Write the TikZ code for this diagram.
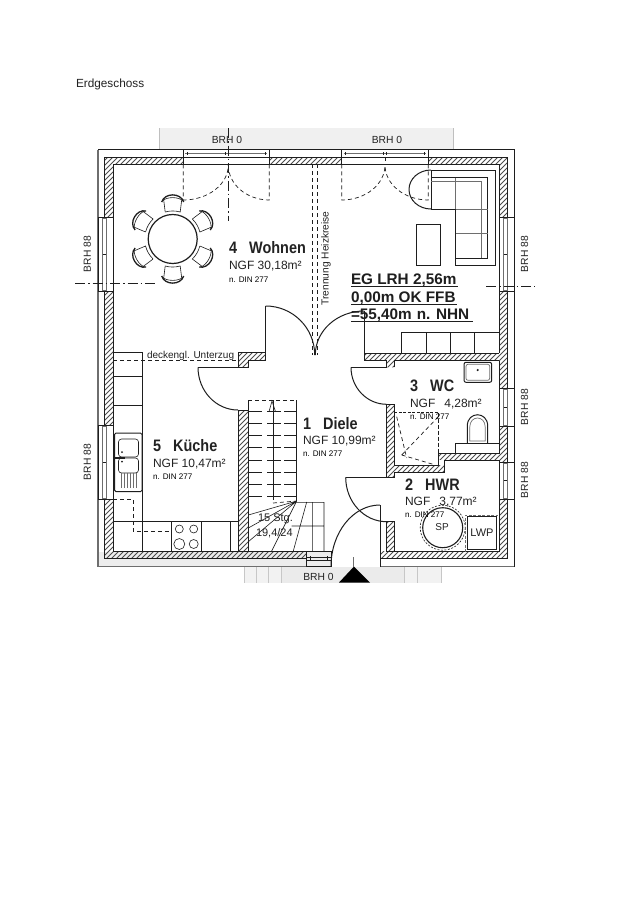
\documentclass[tikz,border=0pt]{standalone}
\usepackage{fontspec}
\setmainfont{Liberation Sans}
\definecolor{ink}{HTML}{1E1E1E}
\definecolor{soft}{HTML}{6E6E6E}
\definecolor{txt}{HTML}{222222}
\newcommand{\fsz}[1]{\fontsize{#1}{#1}\selectfont}
\tikzset{
  wall/.style={draw=ink,line width=1pt},
  thin line/.style={draw=ink,line width=.6pt},
  greyline/.style={draw=soft,line width=.7pt},
  dashline/.style={draw=ink,line width=.7pt,dash pattern=on 4pt off 3pt},
  dashdot/.style={draw=ink,line width=.7pt,dash pattern=on 10pt off 3pt on 1.5pt off 3pt},
  hatchline/.style={draw=soft!70!black,line width=.75pt},
  lbl/.style={anchor=base west,inner sep=0pt,outer sep=0pt,text=txt},
  title/.style={lbl,font=\fsz{16.6}\bfseries,xscale=.87},
  area/.style={lbl,font=\fsz{12}},
  din/.style={lbl,font=\fsz{8.1},text=black},
  brh/.style={inner sep=0pt,text=txt,font=\fsz{10.3}},
  eg/.style={lbl,font=\fsz{15.3}\bfseries,text=ink},
}
\newcommand{\winv}[3]{% vertical wall window: x-left, y1, y2
  \fill[white] (#1,#2) rectangle ({#1+15},#3);
  \draw[thin line] (#1,#2) rectangle ({#1+15},#3);
  \draw[greyline] ({#1+4.5},{#2+1}) rectangle ({#1+8},{#3-1});
  \draw[thin line] ({#1+4.5},{(#2+#3)/2}) -- ({#1+8},{(#2+#3)/2});
}
\newcommand{\winh}[2]{% top window
  \draw[thin line] (#1,149.5) rectangle (#2,164.3);
  \draw[thin line] (#1,157) -- (#2,157);
  \draw[greyline] ({#1+2},153.3) -- ({#2-2},153.3);
  \draw[thin line] ({#1+4},152) -- ({#1+4},155) ({#2-4},152) -- ({#2-4},155);
  \draw[thin line] ({(#1+#2)/2-1.5},152) -- ({(#1+#2)/2-1.5},155) ({(#1+#2)/2+1.5},152) -- ({(#1+#2)/2+1.5},155);
}
\begin{document}
\begin{tikzpicture}[x=1pt,y=-1pt]
\useasboundingbox (0,0) rectangle (636,900);
\fill[white] (0,0) rectangle (636,900);
% grey paving bands
\fill[black!6] (159.5,128) rectangle (453.5,149.5);
\draw[black!25,line width=.5pt] (159.5,128) -- (159.5,149.5) (453.5,128) -- (453.5,149.5);
\fill[black!5] (244.5,567) rectangle (441.5,583);
\fill[black!8] (281.7,567) rectangle (404,583);
\draw[black!22,line width=.5pt] (244.5,567) -- (244.5,583) (256.7,567) -- (256.7,583) (268.3,567) -- (268.3,583) (281.7,567) -- (281.7,583) (404.3,567) -- (404.3,583) (417.3,567) -- (417.3,583) (441.5,567) -- (441.5,583);
% outer shell
\fill[black!7] (98,552) rectangle (331,566.5);
\draw[soft,line width=1.6pt] (98,149.5) -- (98,566.5) -- (331,566.5);
\draw[soft,line width=1pt] (380,566.5) -- (514,566.5);
\draw[ink,line width=1pt] (98,149.5) -- (514,149.5) -- (514,566.5);
\draw[soft,line width=.7pt] (104,558.5) -- (306,558.5) (380,558.5) -- (507.3,558.5);
% hatching
\begin{scope}
\clip (104,157) rectangle (183.3,164.3)
 (269.3,157) rectangle (341.7,164.3)
 (428.3,157) rectangle (507.3,164.3)
 (104,157) rectangle (113.3,217)
 (104,291.7) rectangle (113.3,425)
 (104,499.3) rectangle (113.3,558)
 (499,157) rectangle (507.3,217)
 (499,291.7) rectangle (507.3,388)
 (499,426) rectangle (507.3,462)
 (499,499.3) rectangle (507.3,558)
 (104,551) rectangle (306,558)
 (380,551) rectangle (507.3,558)
 (364.3,353.3) rectangle (499,360.7)
 (386.7,360.7) rectangle (394.3,367.3)
 (238,352.3) rectangle (265.7,360.7)
 (238,360.7) rectangle (248,367.3)
 (238,410) rectangle (248,551)
 (386.7,404.3) rectangle (394.3,477.3)
 (386.7,521.7) rectangle (394.3,551)
 (394.3,465) rectangle (444.7,477.3)
 (438.3,453.5) rectangle (499,460);
\foreach \c in {255,260,...,1070}
  \draw[hatchline] ({\c-150},150) -- ({\c-570},570);
\end{scope}
% masks of hatch overflow
\fill[white] (394.3,472.4) rectangle (445,477.5);
\fill[white] (438.4,460.1) -- (438.4,465) -- (444.7,465) -- (444.7,460.1) -- cycle;
% wall outlines
\draw[wall] (104,217) -- (104,157) -- (183.3,157) (269.3,157) -- (341.7,157) (428.3,157) -- (507.3,157) -- (507.3,217);
\draw[wall] (113.3,217) -- (113.3,164.3) -- (183.3,164.3) (269.3,164.3) -- (341.7,164.3) (428.3,164.3) -- (499,164.3) -- (499,217);
\draw[wall] (104,291.7) -- (104,425) (113.3,291.7) -- (113.3,425) (104,499.3) -- (104,558) -- (306,558) (113.3,499.3) -- (113.3,551) -- (238,551);
\draw[wall] (507.3,291.7) -- (507.3,388) (499,291.7) -- (499,353.3) (499,360.7) -- (499,388);
\draw[wall] (507.3,426) -- (507.3,462) (499,426) -- (499,453.5) (499,460) -- (499,462);
\draw[wall] (507.3,499.3) -- (507.3,558) -- (380,558) (499,499.3) -- (499,551) -- (394.3,551);
\draw[wall] (248,551) -- (306,551);
% interior walls
\draw[wall] (364.3,311) -- (364.3,353.3) -- (499,353.3) (364.3,353.3) -- (364.3,360.7) -- (386.7,360.7) -- (386.7,367.3) (394.3,367.3) -- (394.3,360.7) -- (499,360.7);
\draw[wall] (265.7,306) -- (265.7,360.7) -- (248,360.7) -- (248,367.3) -- (238,367.3) -- (238,352.3) -- (265.7,352.3);
\draw[wall] (238,410) rectangle (248,551);
\draw[wall] (386.7,404.3) -- (386.7,477.3) (394.3,404.3) -- (394.3,465) -- (438.3,465) -- (438.3,453.5) -- (499,453.5) (386.7,404.3) -- (394.3,404.3);
\draw[wall] (394.3,472.4) -- (444.7,472.4) -- (444.7,460) -- (499,460) (386.7,477.3) -- (394.3,477.3) -- (394.3,472.4);
\draw[wall] (386.7,521.7) rectangle (394.3,551);
\draw[wall] (380,505) -- (380,566.5);
% windows
\winh{183.3}{269.3}
\winh{341.7}{428.3}
\winv{98}{217.3}{291.7}
\winv{98}{425}{499.3}
\winv{499}{217.3}{291.7}
\winv{499}{388}{426}
\winv{499}{462}{499.3}
\draw[thin line] (306,551) rectangle (331,566.5);
\draw[thin line] (306,557.3) -- (331,557.3);
\draw[thin line] (306,560.6) -- (331,560.6);
\draw[thin line] (310,556) -- (310,560.6) (327,556) -- (327,560.6);
% doors
\draw[dashline] (183.3,164.3) -- (183.3,200) arc[start angle=90,end angle=0,x radius=45,y radius=35];
\draw[dashline] (269.3,164.3) -- (269.3,200) arc[start angle=90,end angle=180,x radius=41,y radius=35];
\draw[dashline] (341.7,164.3) -- (341.7,200) arc[start angle=90,end angle=0,x radius=43.3,y radius=35];
\draw[dashline] (428.3,164.3) -- (428.3,200) arc[start angle=90,end angle=180,x radius=43.3,y radius=35];
\draw[dashdot] (228.3,128) -- (228.3,221);
\draw[dashline] (385,157) -- (385,165);
\draw[wall] (265.7,306) arc[start angle=270,end angle=360,x radius=49,y radius=49];
\draw[wall] (364.3,311) arc[start angle=270,end angle=180,x radius=49,y radius=44];
\draw[wall] (198,367.3) -- (238,367.3);
\draw[wall] (198,367.3) arc[start angle=180,end angle=90,x radius=40,y radius=42.7];
\draw[wall] (351,367.3) -- (386.7,367.3);
\draw[wall] (351,367.3) arc[start angle=180,end angle=90,x radius=35.7,y radius=37];
\draw[wall] (345.7,477.3) -- (386.7,477.3);
\draw[wall] (345.7,477.3) arc[start angle=180,end angle=90,x radius=41,y radius=44.4];
\draw[wall] (331,566.5) arc[start angle=180,end angle=270,x radius=49,y radius=61.5];
% heating split
\draw[dashline] (312.3,164.3) -- (312.3,355);
\draw[dashline] (317.3,164.3) -- (317.3,355);
% section lines
\draw[dashdot] (75,283.3) -- (158,283.3);
\draw[dashdot] (486,286.7) -- (535,286.7);
% dining table
\draw[ink,line width=1.2pt] (172.7,239) circle[radius=24.5];
\foreach \a in {30,90,150,210,270,330}{
\begin{scope}[shift={(172.7,239)},rotate=\a]
  \draw[thin line] (27,-7.5) -- (39,-9) (39,9) -- (27,7.5) arc[start angle=16,end angle=-16,radius=27];
  \draw[ink,line width=1.3pt] (37,-11) .. controls (46.5,-8) and (46.5,8) .. (37,11);
  \draw[thin line] (38,-10.5) .. controls (42.5,-6) and (42.5,6) .. (38,10.5);
\end{scope}}
% sofa, table, sideboard
\draw[wall] (431,170) -- (495,170) -- (495,265) -- (455.7,265) -- (455.7,209) -- (431,209) -- cycle;
\draw[wall] (431,177.5) -- (487.7,177.5) -- (487.7,258) -- (455.7,258);
\draw[greyline] (431,181.7) -- (481.7,181.7) -- (481.7,258);
\draw[greyline] (455.7,177.5) -- (455.7,209) (455.7,209) -- (487.7,209) (455.7,233.3) -- (487.7,233.3);
\draw[wall] (431,170) arc[start angle=270,end angle=90,x radius=22,y radius=19.5];
\draw[wall] (416,224.3) rectangle (440.3,265.3);
\draw[thin line] (401.7,353.3) -- (401.7,332.7) -- (499,332.7) (426,332.7) -- (426,353.3) (450.7,332.7) -- (450.7,353.3) (474.7,332.7) -- (474.7,353.3);
% kitchen
\draw[thin line] (113.3,352.3) -- (142.3,352.3) (142.3,352.3) -- (142.3,551) (113.3,376.7) -- (142.3,376.7);
\draw[wall] (113.3,405) -- (142.3,405);
\draw[dashline] (113.3,360.7) -- (238,360.7);
\draw[wall,rounded corners=1.5pt] (114.5,433) rectangle (142,491.7);
\draw[thin line,rounded corners=3pt] (118.5,439) rectangle (138.5,457);
\draw[thin line,rounded corners=3pt] (118.5,458) rectangle (138.5,473);
\foreach \x in {121,124,127,130,133,136} \draw[greyline] (\x,473) -- (\x,488);
\draw[ink,line width=1.2pt] (113.5,458) -- (125,458);
\fill[ink] (122,452) circle[radius=1] (122,461.5) circle[radius=1];
\draw[dashline] (113.3,499.3) -- (133.3,499.3) -- (133.3,531.7) -- (171.7,531.7);
\draw[thin line] (113.3,521.7) -- (238,521.7) (171.7,521.7) -- (171.7,551) (201.7,521.7) -- (201.7,551) (230.7,521.7) -- (230.7,551);
\draw[thin line] (179.3,529) circle[radius=4] (193.7,529) circle[radius=4] (179.3,544) circle[radius=5.5] (193.7,544) circle[radius=4.5];
% stairs
\draw[thin line] (296.7,400) -- (296.7,501) (248,400) -- (248,410);
\draw[dashline] (248,400) -- (296.7,400);
\foreach \y/\s in {411.7/dashline,423.3/wall,435.7/dashline,447.7/dashline,460/wall,472.3/dashline,484/dashline,496/wall}
  \draw[\s,dash pattern=on 14pt off 5pt on 14pt off 3pt on 14pt] (248,\y) -- (296.7,\y);
\draw[thin line] (272.8,400) -- (272.8,500);
\draw[thin line] (269,411.7) -- (272,401) -- (275.5,411.7);
\draw[dashline] (273,503) -- (296.7,501);
\draw[thin line] (296.7,501) -- (248.3,515) (296.7,501) -- (248.3,528) (296.7,501) -- (248.3,541.7) (296.7,501) -- (271.7,551) (306.7,502) -- (293.3,551) (296.7,502.3) -- (324,502.3) -- (324,551) (312.3,502.3) -- (312.3,551) (291.7,526) -- (324,526);
% WC
\draw[wall,rounded corners=2pt] (464,362.3) rectangle (491.7,382.3);
\draw[greyline,rounded corners=2pt] (466,364.3) rectangle (489.7,380.3);
\fill[ink] (477.7,370) circle[radius=1.2];
\draw[wall] (467.3,443.3) -- (467.3,426) .. controls (467.3,411) and (487.7,411) .. (487.7,426) -- (487.7,443.3);
\draw[greyline] (469.8,441) -- (469.8,427) .. controls (469.8,415) and (485.2,415) .. (485.2,427) -- (485.2,441) -- cycle;
\draw[thin line] (455,453.5) -- (455,443.3) -- (499,443.3);
\draw[dashline,dash pattern=on 3pt off 1.5pt] (394.3,412.7) -- (438.3,412.7);
\draw[dashline,dash pattern=on 4pt off 2pt] (438.3,412.7) -- (438.3,465);
\draw[dashline] (438.3,416.7) -- (401.7,455) (396.7,416.7) -- (406.7,458) (401.7,455) -- (433,464.3);
% HWR
\draw[ink,line width=1.1pt] (442.7,527.7) circle[radius=20];
\draw[ink,line width=.6pt,dash pattern=on 2pt off 1.5pt] (442.7,527.7) circle[radius=22.5];
\draw[wall] (467.3,516.7) rectangle (496.7,549);
\draw[greyline,dash pattern=on 3pt off 1.5pt] (465,552) -- (465,515) -- (498,515);
% entrance marker
\fill[black] (339,582.5) -- (354,566.5) -- (370,582.5) -- cycle;
\draw[greyline] (353,557) -- (353,567);
% texts
\node[lbl,font=\fsz{11.8}] (head) at (76,87) {Erdgeschoss};
\node[brh] (b1) at (227,140) {BRH 0};
\node[brh] (b2) at (387,140) {BRH 0};
\node[brh] (b3) at (318.5,577) {BRH 0};
\node[brh,rotate=90] (b4) at (87.3,254) {BRH 88};
\node[brh,rotate=90] (b5) at (87.3,462) {BRH 88};
\node[brh,rotate=90] (b6) at (524.5,254) {BRH 88};
\node[brh,rotate=90] (b7) at (524.5,407) {BRH 88};
\node[brh,rotate=90] (b8) at (524.5,480) {BRH 88};
\node[brh,rotate=90,font=\fsz{10.2}] (heiz) at (326,258.5) {Trennung Heizkreise};
\node[lbl,font=\fsz{10}] (unter) at (147,358.5) {deckengl. Unterzug};
\node[title] (t4) at (229,253.5) {4\hspace{14pt}Wohnen};
\node[area] (a4) at (229,269.5) {NGF 30,18m²};
\node[din] (d4) at (229,282) {n. DIN 277};
\node[title] (t5) at (153,451.5) {5\hspace{14pt}Küche};
\node[area] (a5) at (153,467.5) {NGF 10,47m²};
\node[din] (d5) at (153,479) {n. DIN 277};
\node[title] (t1) at (303,429.5) {1\hspace{14pt}Diele};
\node[area] (a1) at (303,444.5) {NGF 10,99m²};
\node[din] (d1) at (303,456) {n. DIN 277};
\node[title] (t3) at (410,391.5) {3\hspace{14pt}WC};
\node[area] (a3) at (410,407.5) {NGF\hspace{9pt}4,28m²};
\node[din] (d3) at (410,419) {n. DIN 277};
\node[title] (t2) at (405,490.5) {2\hspace{14pt}HWR};
\node[area] (a2) at (405,505.5) {NGF\hspace{9pt}3,77m²};
\node[din] (d2) at (405,517.5) {n. DIN 277};
\node[lbl,font=\fsz{11}] (s1) at (258,521) {15 Stg.};
\node[lbl,font=\fsz{11}] (s2) at (256,536) {19,4/24};
\node[brh,font=\fsz{10}] (sp) at (442,527.5) {SP};
\node[brh,font=\fsz{11}] (lwp) at (482,533) {LWP};
\node[eg] (e1) at (351,284) {EG LRH 2,56m};
\node[eg] (e2) at (351,302) {0,00m OK FFB};
\node[eg] (e3) at (351,319.5) {=55,40m\hspace{5pt}n. NHN};
\draw[ink,line width=1.1pt] (e1.base west) ++(0,2.2) -- ++(107,0);
\draw[ink,line width=1.1pt] (e2.base west) ++(0,2.2) -- ++(106,0);
\draw[ink,line width=1.1pt] (e3.base west) ++(0,2.2) -- ++(122,0);
\end{tikzpicture}
\end{document}
